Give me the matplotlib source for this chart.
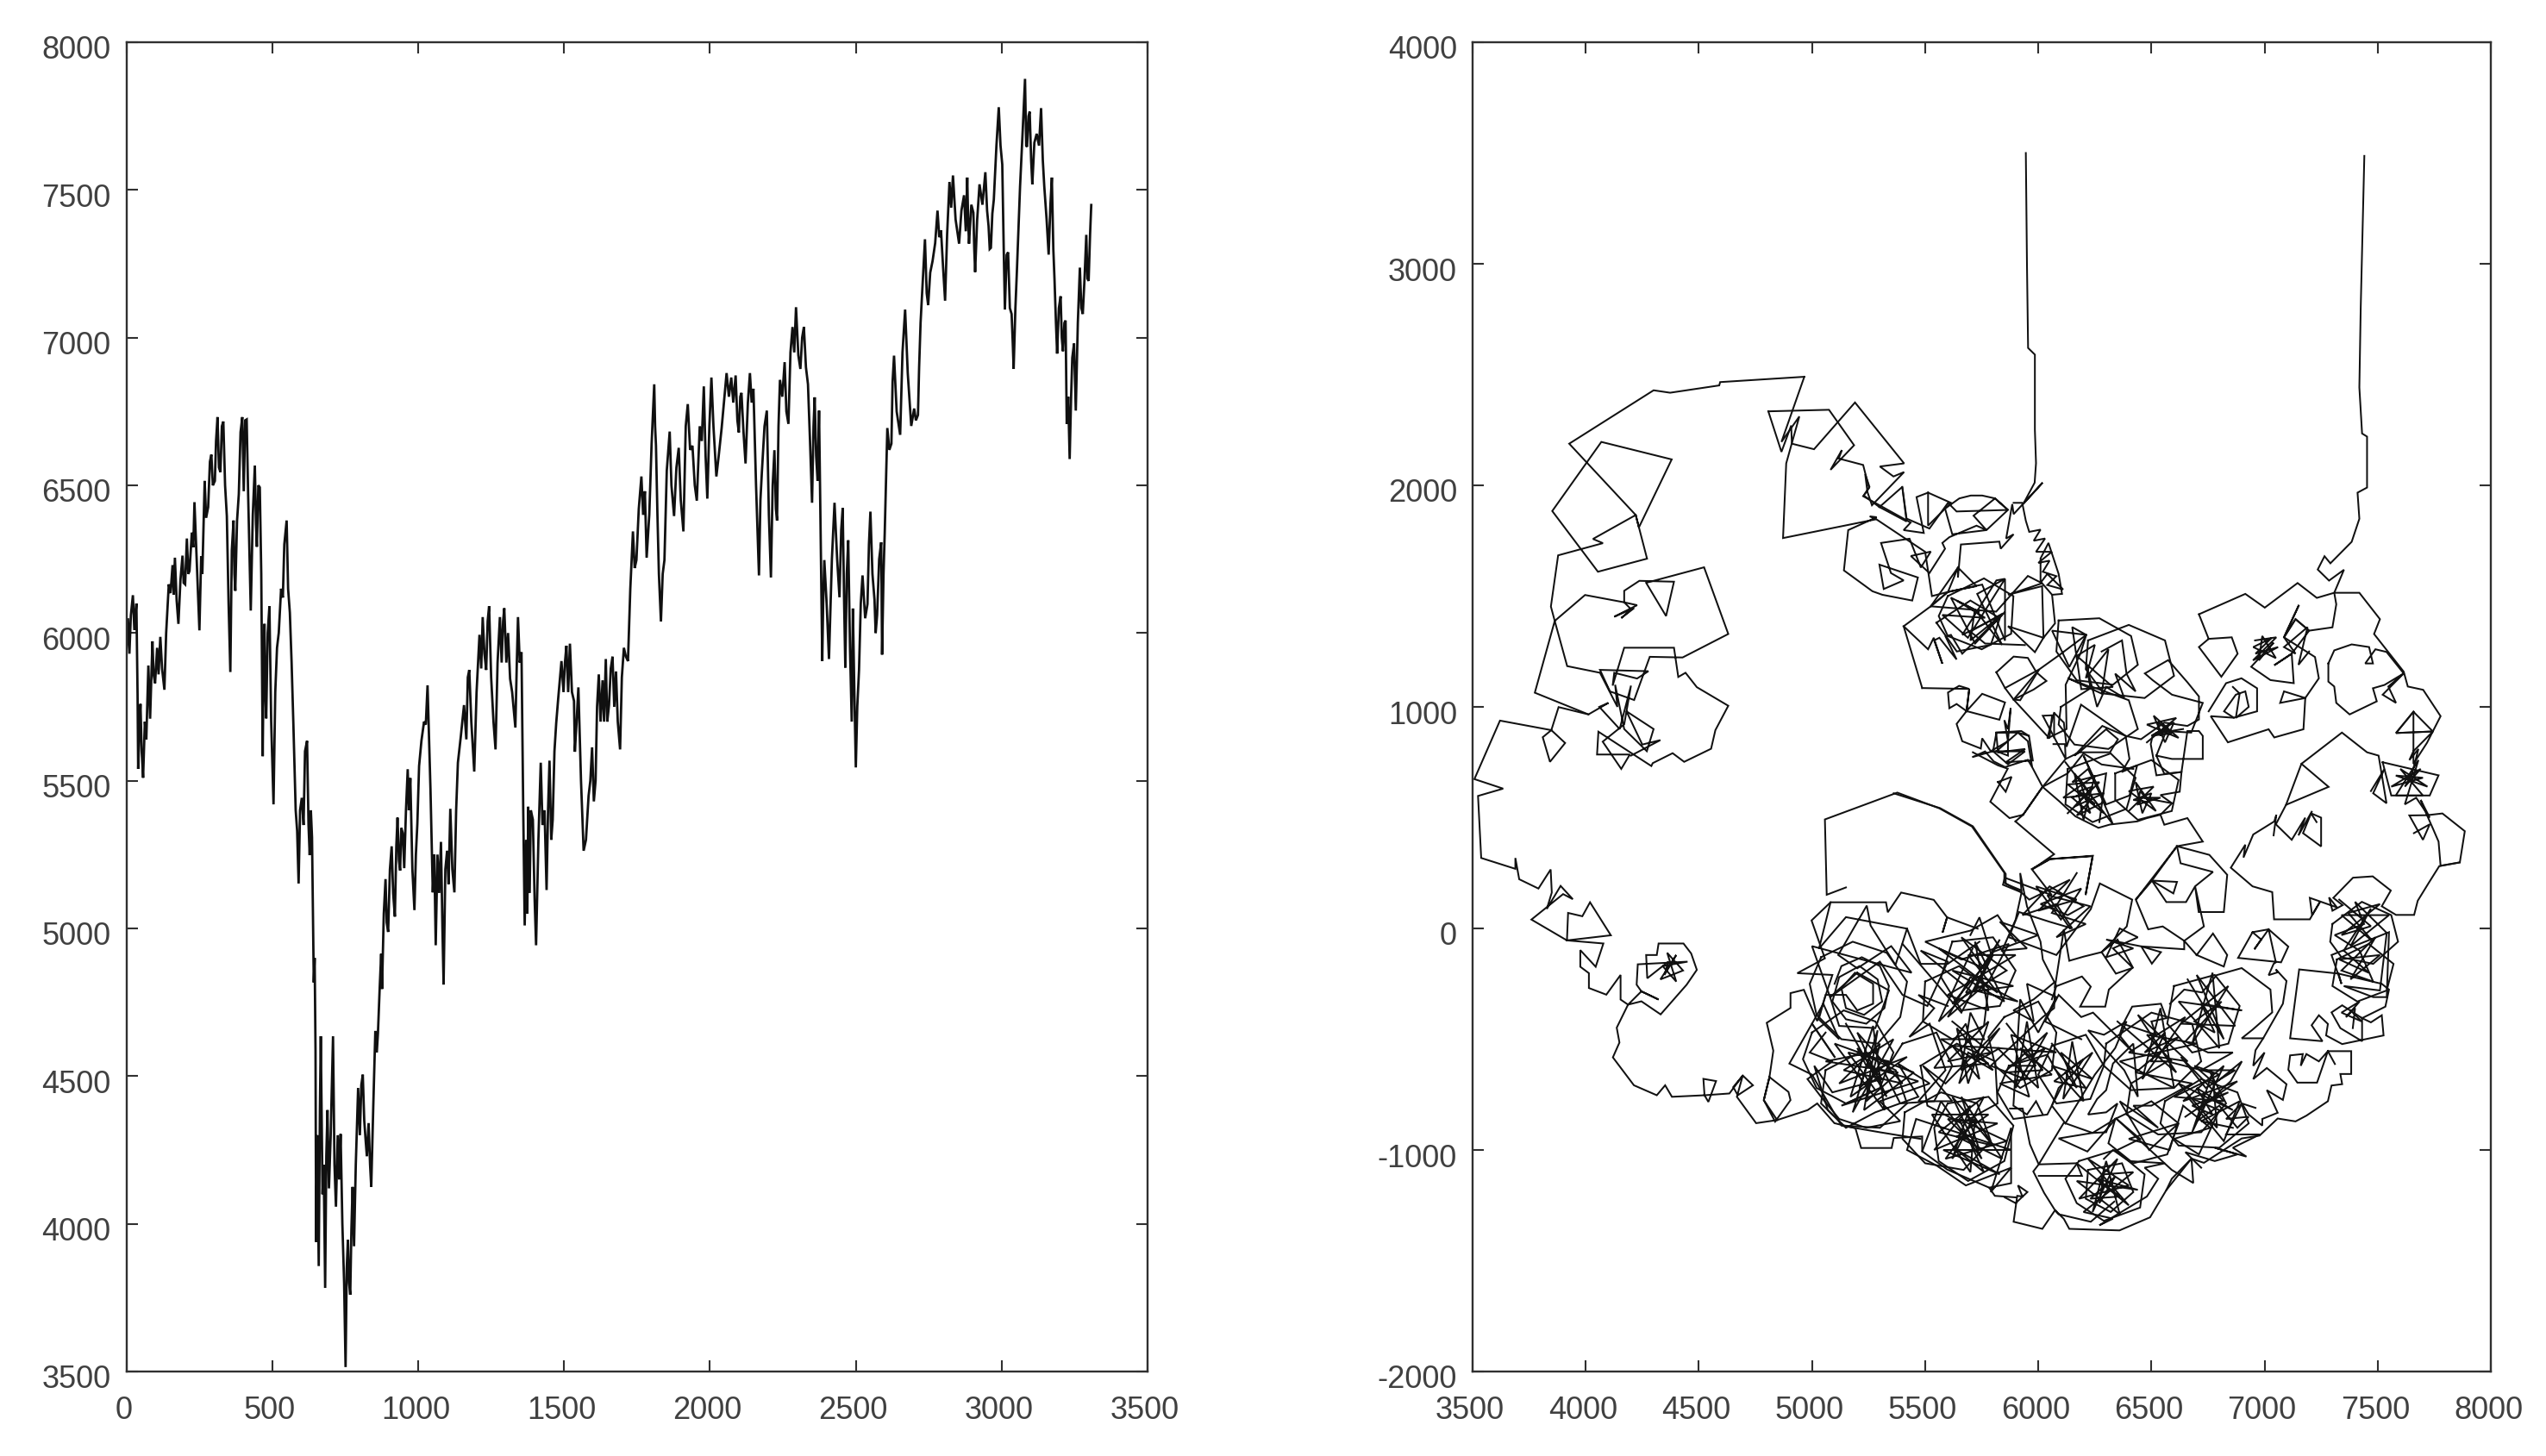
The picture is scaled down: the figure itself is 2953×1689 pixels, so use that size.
import matplotlib
matplotlib.use("Agg")
import matplotlib.pyplot as plt
from matplotlib.transforms import ScaledTranslation
import numpy as np

plt.rcParams["font.family"] = ["Liberation Sans", "DejaVu Sans"]

left_ticks_x = [0, 500, 1000, 1500, 2000, 2500, 3000, 3500]
left_ticks_y = [3500, 4000, 4500, 5000, 5500, 6000, 6500, 7000, 7500, 8000]
right_ticks_x = [3500, 4000, 4500, 5000, 5500, 6000, 6500, 7000, 7500, 8000]
right_ticks_y = [-2000, -1000, 0, 1000, 2000, 3000, 4000]

series_xy = [
    (0, 5950), (5, 6050), (10, 5930), (15, 6060), (22, 6128), (27, 6010), (34, 6100), (38, 5793), (40, 5540), (45, 5700),
    (48, 5760), (52, 5600), (57, 5510), (63, 5700), (68, 5640), (75, 5890), (78, 5800), (81, 5710), (89, 5972), (93, 5860),
    (98, 5830), (105, 5950), (110, 5860), (116, 5987), (122, 5880), (130, 5808), (136, 6000), (145, 6165), (151, 6135),
    (158, 6230), (162, 6130), (166, 6255), (172, 6110), (178, 6031), (185, 6180), (192, 6262), (196, 6170), (201, 6165),
    (207, 6320), (212, 6200), (216, 6210), (224, 6340), (229, 6290), (233, 6443), (241, 6240), (246, 6120), (250, 6009),
    (256, 6260), (260, 6200), (268, 6515), (273, 6390), (280, 6426), (286, 6580), (291, 6604), (296, 6500), (303, 6515),
    (307, 6650), (312, 6731), (317, 6560), (322, 6545), (327, 6700), (332, 6716), (338, 6500), (344, 6396), (350, 6100),
    (356, 5868), (361, 6280), (367, 6381), (370, 6200), (373, 6143), (379, 6380), (385, 6470), (391, 6680), (397, 6731),
    (402, 6480), (407, 6720), (412, 6723), (417, 6470), (421, 6300), (426, 6076), (433, 6400), (440, 6567), (444, 6370),
    (447, 6292), (452, 6500), (457, 6493), (462, 6200), (467, 5583), (470, 5900), (473, 6031), (476, 5800), (479, 5711),
    (484, 6000), (490, 6091), (496, 5700), (504, 5420), (510, 5800), (516, 5950), (522, 6001), (530, 6150), (536, 6120),
    (541, 6300), (549, 6381), (554, 6150), (560, 6069), (566, 5900), (572, 5695), (580, 5400), (585, 5330), (590, 5152),
    (595, 5400), (601, 5442), (607, 5350), (612, 5600), (619, 5635), (624, 5350), (628, 5248), (632, 5400), (636, 5308),
    (642, 4817), (645, 4900), (648, 4586), (650, 3939), (654, 4300), (659, 3857), (663, 4385), (666, 4635), (672, 4100),
    (676, 4200), (681, 3783), (685, 4230), (689, 4385), (694, 4120), (700, 4300), (708, 4635), (713, 4200), (718, 4058),
    (724, 4300), (729, 4150), (734, 4304), (740, 4000), (746, 3800), (751, 3515), (755, 3850), (759, 3946), (763, 3800),
    (767, 3760), (771, 3980), (775, 4125), (778, 4000), (780, 3924), (786, 4200), (794, 4460), (800, 4300), (805, 4470),
    (810, 4505), (815, 4350), (820, 4280), (824, 4229), (830, 4341), (835, 4200), (839, 4125), (846, 4400), (853, 4653),
    (858, 4580), (862, 4646), (868, 4800), (873, 4914), (876, 4795), (882, 5050), (888, 5167), (892, 5020), (897, 4988),
    (903, 5200), (909, 5278), (914, 5120), (920, 5040), (925, 5280), (929, 5375), (934, 5230), (938, 5196), (942, 5340),
    (947, 5323), (952, 5204), (958, 5400), (964, 5539), (968, 5400), (973, 5509), (980, 5200), (987, 5062), (992, 5250),
    (997, 5353), (1003, 5550), (1011, 5635), (1020, 5700), (1026, 5690), (1032, 5823), (1037, 5650), (1042, 5472), (1046, 5300),
    (1050, 5122), (1055, 5250), (1060, 4943), (1066, 5250), (1072, 5120), (1078, 5293), (1083, 5000), (1087, 4810), (1093, 5200),
    (1099, 5263), (1104, 5150), (1110, 5405), (1117, 5200), (1124, 5122), (1130, 5400), (1136, 5561), (1146, 5650), (1157, 5756),
    (1165, 5640), (1170, 5850), (1175, 5875), (1182, 5700), (1192, 5531), (1200, 5800), (1210, 5994), (1216, 5880), (1221, 6054),
    (1227, 5930), (1233, 5875), (1238, 6040), (1243, 6091), (1250, 5850), (1258, 5700), (1265, 5606), (1272, 5900), (1280, 6054),
    (1286, 5900), (1291, 6040), (1295, 6084), (1302, 5900), (1308, 6000), (1315, 5845), (1322, 5800), (1333, 5680), (1338, 5900),
    (1342, 6054), (1348, 5900), (1354, 5935), (1360, 5400), (1365, 5010), (1370, 5300), (1374, 5050), (1377, 5412), (1382, 5120),
    (1386, 5400), (1393, 5368), (1399, 5100), (1404, 4943), (1412, 5300), (1420, 5561), (1426, 5350), (1433, 5400), (1440, 5130),
    (1445, 5400), (1450, 5568), (1456, 5300), (1461, 5368), (1467, 5600), (1473, 5695), (1480, 5780), (1491, 5905), (1498, 5800),
    (1503, 5900), (1508, 5957), (1514, 5800), (1520, 5964), (1527, 5800), (1534, 5770), (1537, 5598), (1543, 5700), (1549, 5816),
    (1558, 5500), (1567, 5263), (1575, 5300), (1584, 5449), (1590, 5500), (1596, 5613), (1602, 5430), (1608, 5500), (1613, 5750),
    (1619, 5860), (1625, 5700), (1632, 5840), (1637, 5700), (1643, 5912), (1648, 5700), (1654, 5756), (1660, 5880), (1666, 5920),
    (1672, 5750), (1678, 5870), (1684, 5700), (1692, 5606), (1698, 5850), (1705, 5950), (1712, 5920), (1719, 5905), (1727, 6150),
    (1736, 6344), (1742, 6220), (1748, 6247), (1756, 6420), (1765, 6530), (1771, 6400), (1777, 6480), (1783, 6255), (1792, 6400),
    (1800, 6640), (1809, 6842), (1812, 6700), (1815, 6634), (1820, 6400), (1825, 6200), (1832, 6039), (1838, 6200), (1844, 6247),
    (1852, 6550), (1862, 6682), (1868, 6500), (1877, 6396), (1885, 6560), (1893, 6627), (1900, 6450), (1909, 6344), (1917, 6700),
    (1924, 6775), (1932, 6620), (1940, 6634), (1948, 6500), (1955, 6448), (1965, 6700), (1972, 6650), (1979, 6835), (1985, 6600),
    (1991, 6455), (1998, 6700), (2005, 6865), (2012, 6700), (2022, 6530), (2030, 6600), (2040, 6693), (2048, 6780), (2057, 6880),
    (2065, 6800), (2073, 6865), (2080, 6780), (2088, 6872), (2094, 6720), (2099, 6679), (2104, 6800), (2108, 6813), (2115, 6680),
    (2122, 6574), (2130, 6780), (2137, 6880), (2143, 6780), (2149, 6827), (2158, 6500), (2168, 6195), (2173, 6450), (2178, 6545),
    (2187, 6700), (2195, 6753), (2202, 6400), (2209, 6188), (2215, 6500), (2221, 6619), (2226, 6420), (2230, 6381), (2235, 6700),
    (2240, 6857), (2248, 6800), (2256, 6917), (2262, 6750), (2269, 6708), (2276, 6950), (2283, 7036), (2289, 6950), (2295, 7103),
    (2303, 6940), (2310, 6894), (2316, 7000), (2322, 7036), (2329, 6900), (2336, 6842), (2343, 6650), (2350, 6441), (2355, 6700),
    (2359, 6798), (2364, 6600), (2369, 6515), (2372, 6650), (2374, 6753), (2380, 6300), (2385, 5905), (2388, 6100), (2392, 6247),
    (2400, 6100), (2408, 5912), (2418, 6250), (2427, 6441), (2436, 6250), (2444, 6121), (2450, 6350), (2455, 6423), (2460, 6100),
    (2464, 5883), (2469, 6200), (2474, 6314), (2480, 5950), (2486, 5700), (2490, 6083), (2495, 5800), (2500, 5545), (2505, 5750),
    (2511, 5875), (2517, 6100), (2523, 6195), (2532, 6050), (2540, 6098), (2545, 6300), (2550, 6411), (2557, 6200), (2564, 6113),
    (2568, 6000), (2573, 6061), (2580, 6250), (2587, 6307), (2590, 5927), (2595, 6200), (2599, 6336), (2605, 6574), (2608, 6694),
    (2615, 6620), (2622, 6641), (2626, 6850), (2631, 6939), (2640, 6750), (2652, 6671), (2660, 6950), (2669, 7095), (2678, 6880),
    (2690, 6701), (2700, 6760), (2706, 6720), (2713, 6738), (2717, 6900), (2722, 7051), (2730, 7200), (2737, 7333), (2743, 7150),
    (2748, 7110), (2755, 7220), (2763, 7259), (2772, 7320), (2780, 7430), (2786, 7340), (2792, 7363), (2799, 7240), (2806, 7125),
    (2813, 7350), (2821, 7527), (2827, 7440), (2833, 7549), (2842, 7400), (2854, 7318), (2862, 7430), (2871, 7482), (2877, 7360),
    (2882, 7542), (2885, 7400), (2888, 7318), (2896, 7450), (2903, 7423), (2906, 7300), (2909, 7222), (2916, 7400), (2924, 7519),
    (2934, 7450), (2944, 7560), (2950, 7430), (2955, 7378), (2959, 7300), (2963, 7304), (2968, 7420), (2973, 7467), (2982, 7650),
    (2990, 7780), (2996, 7650), (3002, 7586), (3007, 7300), (3011, 7095), (3017, 7280), (3022, 7289), (3028, 7100), (3034, 7080),
    (3038, 6980), (3041, 6894), (3047, 7100), (3052, 7222), (3058, 7380), (3063, 7512), (3072, 7700), (3080, 7876), (3084, 7650),
    (3087, 7646), (3092, 7750), (3096, 7765), (3101, 7600), (3105, 7519), (3112, 7660), (3120, 7690), (3128, 7650), (3135, 7777),
    (3141, 7600), (3146, 7512), (3154, 7400), (3161, 7281), (3167, 7450), (3172, 7542), (3177, 7300), (3181, 7199), (3186, 7050),
    (3190, 6946), (3196, 7100), (3202, 7140), (3206, 7000), (3210, 6954), (3215, 7050), (3219, 7058), (3223, 6708), (3228, 6800),
    (3233, 6589), (3238, 6800), (3242, 6932), (3248, 6980), (3254, 6753), (3261, 7050), (3268, 7237), (3273, 7100), (3278, 7080),
    (3284, 7200), (3290, 7348), (3294, 7200), (3298, 7192), (3303, 7350), (3307, 7449),
]

left_arm = [
    (4966, 2490), (4594, 2466), (4590, 2451), (4373, 2418), (4300, 2429), (3927, 2188), (4221, 1866), (4271, 1669),
    (4054, 1610), (3852, 1884), (4069, 2196), (4380, 2117), (4235, 1810), (4221, 1866), (4032, 1758), (4076, 1739),
    (3878, 1684), (3846, 1453), (3863, 1388), (3997, 1505), (4170, 1472), (4227, 1459), (4126, 1407), (4214, 1446),
    (4157, 1401), (4201, 1440), (4170, 1472), (4170, 1524), (4237, 1569), (4390, 1565), (4355, 1410), (4267, 1560),
    (4523, 1630), (4630, 1329), (4428, 1223), (4283, 1226), (4214, 1031), (4107, 1070), (4063, 1167), (4277, 1161),
    (4227, 1128), (4126, 1154), (4119, 1096), (4170, 1267), (4390, 1267), (4409, 1135), (4441, 1154), (4491, 1089),
    (4630, 1005), (4573, 895), (4554, 811), (4435, 752), (4384, 791), (4296, 746), (4290, 733), (4056, 888), (4050, 785),
    (4195, 785), (4157, 720), (4075, 843), (4170, 921), (4200, 1096), (4150, 900), (4060, 1000), (4100, 1018),
    (4012, 966), (3775, 1064), (3863, 1388), (3918, 1184), (4063, 1154), (4140, 1000), (4130, 1100), (4170, 900),
    (4270, 800), (4300, 900), (4180, 980), (4250, 830), (4330, 850), (4200, 780),
]
left_arm_b = [
    (4012, 966), (3880, 999), (3848, 895), (3810, 863), (3842, 752), (3909, 837), (3848, 895), (3621, 938), (3508, 674),
    (3635, 631), (3524, 598), (3538, 318), (3689, 269), (3689, 318), (3706, 222), (3791, 180), (3845, 266), (3850, 162),
    (3828, 88), (3889, 192), (3943, 132), (3900, 155), (3760, 40), (3917, -54), (4111, -31), (4019, 118), (3985, 55),
    (3922, 70), (3917, -54), (4078, -68), (4044, -173), (3976, -98), (3976, -173), (4014, -202), (4014, -269),
    (4091, -299), (4154, -210), (4154, -321), (4187, -344), (4246, -329), (4331, -388), (4446, -254), (4491, -187),
    (4466, -113), (4432, -68), (4322, -68), (4314, -120), (4267, -120), (4272, -225), (4365, -150), (4348, -210),
    (4400, -120), (4330, -230), (4430, -190), (4360, -110), (4400, -240), (4340, -170), (4450, -150), (4230, -162),
    (4225, -254), (4246, -284), (4322, -321), (4246, -284), (4187, -344), (4137, -448), (4149, -515), (4120, -582),
    (4213, -708), (4314, -753), (4351, -708), (4381, -760), (4525, -753), (4520, -679), (4576, -689), (4542, -783),
    (4525, -753), (4635, -745), (4694, -664), (4739, -708), (4672, -753), (4652, -716), (4694, -664), (4668, -760),
    (4753, -879), (4846, -865), (4981, -820), (5023, -790), (5099, -879), (5192, -902), (5217, -991), (5352, -991),
    (5361, -946), (5487, -939), (5487, -1006), (5597, -1088), (5783, -1170), (5808, -1207), (5901, -1214),
]
lobe_c = [
    (4846, -865), (4787, -775), (4812, -671), (4896, -738), (4905, -775), (4837, -872), (4787, -775), (4812, -671),
    (4829, -552), (4800, -426), (4905, -359), (4905, -292), (4964, -277), (5023, -418), (5090, -210), (4935, -202),
    (5057, -135), (4998, 36), (5082, 118), (5327, 118), (5335, 73), (5394, 162), (5538, 129), (5597, 50), (5577, -19),
    (5597, 50), (5732, -1),
]
dome = [
    (5150, 185), (5065, 152), (5057, 492), (5377, 613), (5563, 542), (5707, 460), (5850, 251), (5850, 207), (5926, 162),
    (5900, 40), (5840, -100), (5950, -90), (5830, 30), (6000, -30), (5790, -110), (5740, 50), (5700, -30),
]
squares_d = [
    (5082, 118), (5031, -91), (5150, 51), (5420, -1), (5369, -165), (5259, 13), (5242, 103), (5116, -120), (5200, -180),
    (5350, -80), (5440, -200), (5000, -80), (5080, -310), (5300, -150), (5400, -300), (5510, -350), (5600, -150),
    (5480, -100), (5700, -280), (5560, -420), (5710, -90),
]
knot_ring = [
    (5100, -250), (5130, -170), (5220, -130), (5300, -170), (5340, -260), (5320, -360), (5240, -430), (5150, -410),
    (5090, -330), (5120, -220), (5210, -170), (5290, -230), (5310, -330), (5230, -390), (5150, -360), (5130, -270),
    (5190, -200), (5270, -250), (5270, -340), (5200, -370), (5150, -300), (5060, -300), (5030, -410), (5120, -500),
    (5050, -340), (5000, -430), (5100, -580),
]
knot_a = [
    (5150, -430), (5330, -760), (5200, -470), (5400, -700), (5140, -640), (5360, -500), (5180, -830), (5290, -460),
    (5230, -820), (5450, -650), (5100, -520), (5320, -820), (5270, -440), (5170, -760), (5420, -580), (5120, -700),
    (5300, -520), (5240, -780), (5380, -650), (5060, -600), (5260, -560), (5210, -720), (5340, -600), (5160, -560),
    (5280, -730), (5130, -800), (5470, -690), (5240, -620), (5200, -540), (5310, -680), (5090, -740), (5010, -620),
    (5070, -820), (5150, -900), (5280, -830), (5470, -760), (5380, -610), (5520, -700), (5300, -780), (5390, -870),
    (5240, -900), (5120, -860), (5040, -760), (4980, -680), (5090, -600), (4990, -560), (5060, -470),
]
knot_b = [
    (5487, -1006), (5570, -780), (5750, -1040), (5620, -760), (5800, -980), (5560, -920), (5760, -760), (5620, -1040),
    (5700, -800), (5540, -1000), (5820, -880), (5600, -860), (5740, -1000), (5660, -760), (5840, -1040), (5640, -940),
    (5780, -840), (5530, -840), (5700, -1100), (5720, -860), (5590, -1040), (5860, -960), (5650, -860), (5760, -1100),
    (5640, -1000), (5830, -1110), (5580, -1000), (5880, -1000), (5700, -940), (5460, -860), (5420, -1000), (5550, -1070),
    (5680, -1160), (5880, -1080), (5790, -1190), (5880, -900), (5880, -1150), (5784, -1170),
]
knot_c = [
    (5400, -70), (5660, -380), (5830, -50), (5680, -290), (5890, -260), (5620, -190), (5850, -330), (5720, -60),
    (5780, -370), (5600, -300), (5900, -120), (5690, -120), (5820, -290), (5560, -90), (5760, -180), (5660, -40),
    (5860, -190), (5620, -340), (5800, -120), (5720, -280), (5910, -330), (5700, -220), (5600, -400), (5780, -240),
    (5870, -70), (5660, -140), (5500, -60), (5700, -10), (5820, 60), (5900, -60),
]
knot_d = [
    (5620, -420), (5790, -560), (5600, -600), (5780, -420), (5690, -700), (5640, -450), (5800, -640), (5570, -500),
    (5760, -500), (5700, -380), (5660, -640), (5830, -540), (5620, -530), (5740, -680), (5680, -430), (5540, -630),
    (5780, -610), (5690, -560), (5650, -700), (5830, -450), (5590, -700), (5490, -620), (5620, -780), (5470, -780),
    (5590, -640), (5520, -430), (5430, -490), (5540, -360), (5470, -300), (5600, -350),
]
knot_e = [
    (5860, -430), (6020, -640), (5850, -650), (6040, -470), (5900, -720), (5950, -420), (6000, -720), (5820, -540),
    (6080, -560), (5880, -480), (5960, -760), (5830, -700), (6060, -660), (5920, -540), (5990, -620), (5880, -620),
    (6030, -540), (5940, -680), (5790, -620), (6020, -400), (6070, -360), (6075, -240), (5980, -320), (5890, -370),
    (5980, -420), (5950, -250), (6080, -310), (6000, -470), (5920, -320), (5910, -480), (5890, -800), (5950, -840),
    (5990, -780), (6020, -840),
]
knot_f = [
    (6060, -520), (6210, -720), (6070, -690), (6240, -560), (6110, -770), (6150, -510), (6200, -780), (6060, -620),
    (6240, -680), (6100, -560), (6170, -720), (6120, -650), (6200, -590), (6160, -650), (6090, -720), (6060, -800),
    (6120, -880), (6250, -660), (6340, -540), (6390, -420), (6290, -480), (6220, -460), (6380, -640), (6440, -760),
    (6420, -520), (6330, -610), (6300, -730), (6260, -770), (6220, -840), (6300, -830), (6350, -790), (6300, -920),
    (6240, -923), (6090, -948), (6217, -1007), (6344, -858), (6450, -950), (6350, -1000),
]
knot_g = [
    (6350, -420), (6610, -650), (6440, -390), (6660, -600), (6400, -560), (6650, -400), (6460, -680), (6540, -360),
    (6600, -720), (6360, -600), (6700, -520), (6480, -480), (6590, -600), (6500, -600), (6560, -470), (6470, -560),
    (6620, -490), (6430, -650), (6680, -700), (6500, -800), (6420, -800), (6530, -900), (6360, -780), (6490, -1000),
    (6620, -880), (6400, -950), (6580, -1000), (6640, -800), (6760, -900), (6600, -950), (6710, -1020), (6800, -820),
    (6660, -760), (6820, -960), (6890, -780), (6720, -870), (6860, -900),
]
knot_h = [
    (6660, -230), (6820, -500), (6700, -210), (6870, -440), (6630, -430), (6840, -260), (6680, -520), (6770, -200),
    (6800, -540), (6620, -330), (6900, -370), (6720, -340), (6780, -470), (6690, -420), (6810, -330), (6650, -510),
    (6750, -560), (6860, -560), (6720, -640), (6870, -640), (6740, -720), (6630, -580), (6820, -780), (6600, -760),
    (6800, -660), (6690, -620), (6780, -700), (6900, -600), (6850, -690), (6720, -810),
]
knot_i = [
    (6650, -850), (6880, -690), (6640, -780), (6820, -620), (6680, -920), (6770, -650), (6790, -900), (6620, -700),
    (6860, -820), (6700, -720), (6770, -840), (6680, -800), (6840, -740), (6740, -790), (6700, -870), (6800, -800),
    (6880, -900), (6930, -850), (6830, -860), (6900, -790), (6830, -930), (6980, -930), (6860, -990), (6920, -1030),
    (6780, -990), (6880, -1020), (6780, -1050), (6650, -1010), (6720, -1080),
]
knot_k = [
    (6170, -1060), (6400, -1250), (6220, -1040), (6400, -1160), (6180, -1220), (6350, -1040), (6240, -1280), (6300, -1050),
    (6360, -1290), (6170, -1140), (6440, -1180), (6260, -1130), (6360, -1210), (6230, -1220), (6340, -1120), (6270, -1240),
    (6290, -1110), (6420, -1100), (6310, -1190), (6200, -1280), (6330, -1310), (6270, -1340), (6480, -1210), (6530, -1130),
    (6470, -1080), (6560, -1060), (6400, -1050), (6330, -1000), (6290, -1040),
]
bottom_rim = [
    (5875, -813), (5931, -813), (5963, -974), (6002, -1065), (5978, -1097), (6026, -1194), (6074, -1272), (6018, -1356),
    (5891, -1324), (5907, -1207), (5930, -1210), (5910, -1160), (5952, -1190), (5900, -1240), (5852, -1214),
]
bottom_rim_b = [
    (6002, -1117), (6193, -1117), (6170, -1060), (6002, -1065), (6113, -877), (6240, -923), (6344, -858), (6494, -1000),
    (6590, -1090), (6685, -1149), (6677, -1039), (6566, -1181), (6494, -1304), (6359, -1363), (6137, -1356), (6113, -1311),
    (6074, -1272), (6090, -1290), (6232, -1324), (6336, -1233),
]
rim_e = [
    (6566, -1181), (6590, -1130), (6677, -1039), (6732, -1058), (6899, -948), (6978, -935), (7058, -858), (7137, -871),
    (7185, -845), (7280, -780), (7296, -709), (7343, -703), (7335, -657), (7383, -657), (7383, -554), (7280, -554),
    (7232, -696), (7145, -696), (7105, -638), (7113, -573), (7169, -567), (7160, -620), (7185, -567), (7240, -600),
    (7280, -554), (7311, -612),
]
rim_f = [
    (6994, -496), (6960, -550), (6950, -620), (7000, -560), (6950, -680), (7010, -630), (7097, -703), (7081, -774),
    (7010, -730), (7030, -770), (7058, -832), (6990, -860), (6990, -890), (6930, -840), (6900, -790), (6960, -810),
]
rim_g = [
    (6582, -340), (6645, -276), (6724, -289), (6788, -211), (6899, -179), (7026, -276), (7034, -379), (6947, -457),
    (6899, -496), (6994, -496), (7081, -340), (7097, -237), (7050, -185), (7058, -198), (7018, -211), (7040, -160),
    (7050, -153), (7018, -4), (6947, -17), (6883, -133), (7073, -153), (7105, -82), (7018, -4), (6955, -94), (6985, -50),
    (6947, -17),
]
center_low = [
    (5899, 483), (6070, 335), (5976, 268), (6053, 313), (6241, 328), (6209, 151), (6240, 326), (6050, 313), (5971, 268),
    (6060, 150), (5852, 229), (5844, 197), (5923, 164), (5960, 130), (6140, 220), (6000, 80), (6170, 130), (5990, 190),
    (6100, 40), (6190, 180), (6010, 110), (6130, 60), (6200, 100), (6050, 190), (5930, 60), (6080, 110), (6150, 0),
    (6050, 30), (5915, 74), (5870, -40), (6080, -120), (6232, 87), (6272, 203), (6415, 130), (6391, 9), (6280, -107),
    (6343, -204), (6415, -179), (6312, -276), (6296, -353), (6185, -353), (6232, -263), (6193, -217), (6074, -263),
    (6113, -4), (6137, -146), (6201, -127), (6280, -107), (6350, -50), (6420, -180), (6330, -90), (6440, -40), (6360, 0),
    (6300, -130), (6420, -90), (6300, -50), (6455, -81), (6502, -159), (6542, -107), (6455, -81), (6645, -94), (6645, -56),
    (6550, 9), (6486, -4), (6431, 130), (6502, 216), (6613, 210), (6597, 158), (6502, 216), (6566, 119), (6653, 119),
    (6693, 190), (6772, 255), (6629, 294), (6613, 371), (6756, 332), (6835, 242), (6820, 74), (6709, 74), (6693, 190),
    (6732, 9), (6645, -56), (6700, -120), (6772, -23), (6835, -120), (6820, -172), (6700, -120),
]
center_low_b = [
    (6375, -431), (6415, -353), (6542, -340), (6566, -405), (6500, -420), (6520, -480), (6375, -431), (6359, -483),
    (6420, -560), (6242, -380), (6190, -400), (6090, -300), (6030, -420), (6190, -500),
]
arc_right = [
    (6613, 371), (6502, 216), (6431, 130), (6613, 371), (6727, 392), (6659, 498), (6557, 468), (6540, 513), (6480, 498),
    (6437, 483), (6317, 469), (6266, 454), (6164, 506), (6095, 572), (6019, 639), (6121, 765), (6181, 795), (6300, 899),
    (6352, 854), (6317, 795), (6181, 795), (6160, 780), (6283, 914), (6386, 869), (6403, 765), (6369, 706), (6437, 736),
    (6403, 600), (6300, 560), (6200, 780), (6330, 470), (6120, 750),
]
knot_m = [
    (6130, 520), (6270, 660), (6130, 650), (6290, 520), (6160, 700), (6200, 490), (6250, 690), (6110, 590), (6290, 610),
    (6160, 550), (6240, 640), (6180, 620), (6250, 560), (6200, 610), (6150, 590), (6230, 520), (6180, 680), (6240, 590),
    (6170, 510), (6290, 570), (6220, 720), (6150, 660), (6300, 700), (6270, 480),
]
knot_n = [
    (6400, 530), (6510, 640), (6400, 620), (6520, 530), (6430, 660), (6460, 520), (6500, 610), (6420, 580), (6490, 570),
    (6450, 620), (6440, 560), (6540, 590), (6460, 590), (6591, 565),
]
knot_p = [
    (6480, 840), (6610, 950), (6480, 920), (6620, 860), (6510, 960), (6560, 840), (6600, 930), (6500, 870), (6590, 880),
    (6530, 930), (6540, 870), (6570, 910), (6520, 880), (6640, 900),
]
mid_top = [
    (6070, 862), (6070, 973), (6113, 929), (6125, 820), (6189, 1010), (6386, 869), (6454, 854), (6557, 929), (6659, 914),
    (6710, 943), (6710, 1047), (6660, 1110), (6574, 1211), (6471, 1151), (6505, 1121), (6591, 1055), (6727, 1018),
    (6676, 884), (6557, 891), (6505, 869), (6497, 832), (6522, 691), (6633, 706), (6625, 617), (6540, 602), (6591, 565),
    (6540, 513),
]
mid_top_b = [
    (6522, 780), (6591, 765), (6727, 765), (6727, 869), (6710, 891), (6659, 891), (6633, 706), (6557, 698), (6522, 780),
    (6574, 914),
]
lower_trace = [
    (6067, 832), (6118, 832), (6121, 765), (6020, 960), (6061, 962), (6049, 858), (5891, 1033), (6004, 1169), (6093, 1234),
    (6212, 1325), (6061, 1344), (6137, 1180), (6212, 1325), (6150, 1360), (6190, 1080), (6330, 1090), (6170, 1230),
    (6250, 1280), (6210, 1130), (6310, 1260), (6280, 1060), (6130, 1130), (6230, 1090), (6210, 1200), (6260, 1000),
    (6300, 1090), (6380, 1040), (6340, 1150), (6430, 1070), (6390, 1150), (6370, 1300), (6280, 1250),
]
upper_shell = [
    (4966, 2490), (4865, 2196), (4944, 2311), (4886, 2099), (4872, 1762), (5284, 1847), (5255, 1860), (5286, 1856),
    (5160, 1798), (5141, 1616), (5267, 1522), (5311, 1506), (5443, 1480), (5468, 1584), (5298, 1642), (5317, 1532),
    (5405, 1571), (5349, 1604), (5305, 1740), (5431, 1759), (5481, 1629), (5525, 1701), (5437, 1681), (5519, 1604),
    (5588, 1714), (5576, 1740), (5607, 1766), (5727, 1818), (5771, 1798), (5714, 1863), (5809, 1941), (5866, 1889),
    (5771, 1798), (5620, 1779), (5588, 1895), (5651, 1941), (5702, 1954), (5752, 1954), (5809, 1941), (5866, 1889),
    (5639, 1882), (5601, 1921), (5519, 1805), (5418, 1850), (5399, 1993),
]
upper_shell_b = [
    (4807, 2334), (5075, 2341), (5186, 2181), (5082, 2070), (5132, 2159), (5118, 2121), (5226, 2092), (5252, 1988),
    (5226, 1951), (5436, 1832), (5405, 1798), (5494, 1785), (5462, 1947), (5513, 1967), (5614, 1921), (5513, 1818),
    (5513, 1967),
]
upper_shell_c = [
    (4807, 2334), (4865, 2151), (4908, 2270), (4911, 2188), (5009, 2163), (5190, 2374), (5407, 2099), (5300, 2085),
    (5360, 2040), (5407, 2060), (5265, 1910), (5245, 1970), (5235, 2051), (5254, 1993), (5229, 1954), (5298, 1902),
    (5399, 1993), (5418, 1837), (5298, 1902),
]
top_trunk = [
    (5945, 3500), (5950, 3000), (5955, 2620), (5985, 2590), (5985, 2250), (5990, 2100), (5984, 2012), (5933, 1915),
    (6019, 2012), (5891, 1870), (5885, 1915), (5858, 1760), (5891, 1779), (5834, 1714), (5828, 1746), (5658, 1733),
    (5645, 1584), (5645, 1629), (5525, 1454), (5405, 1364), (5513, 1260), (5538, 1312), (5576, 1195), (5540, 1300),
    (5563, 1312), (5639, 1214), (5590, 1318), (5614, 1325), (5664, 1240), (5853, 1428), (5700, 1300), (5720, 1440),
    (5840, 1280), (5730, 1510), (5853, 1578), (5815, 1571), (5664, 1325), (5840, 1415), (5721, 1286), (5614, 1493),
    (5740, 1428), (5639, 1480), (5765, 1402), (5576, 1415), (5689, 1312), (5853, 1578), (5853, 1299), (5752, 1552),
    (5601, 1519), (5727, 1545), (5645, 1629), (5601, 1519), (5525, 1454), (5814, 1430), (5954, 1591), (6017, 1558),
    (5866, 1506), (6017, 1545), (6023, 1312), (5866, 1364), (5985, 1247), (6023, 1312), (6074, 1377), (6061, 1506),
    (6017, 1558),
]
top_shell_b = [
    (5891, 1921), (5929, 1921), (5945, 1840), (5960, 1790), (6010, 1800), (5980, 1750), (6030, 1760), (5990, 1700),
    (6060, 1700), (6000, 1650), (6050, 1660), (6020, 1610), (6080, 1590), (6040, 1550), (6110, 1530), (6040, 1600),
    (6010, 1560), (6010, 1670), (6045, 1740), (6090, 1600), (6105, 1510), (6061, 1506),
]
octa_a = [
    (5815, 1156), (5891, 1227), (5954, 1221), (5992, 1156), (6036, 1117), (5979, 1078), (5891, 1033), (5853, 1085),
    (5815, 1156),
]
octa_b = [
    (5853, 1085), (6004, 1169), (5920, 1030), (5891, 1033),
]
stair = [
    (5487, 1085), (5695, 1081), (5650, 1095), (5601, 1065), (5607, 994), (5639, 1013), (5683, 981), (5695, 1081),
    (5683, 981), (5828, 942), (5853, 1020), (5752, 1059), (5683, 981), (5639, 923), (5664, 845), (5746, 812), (5752, 858),
    (5790, 800), (5866, 845), (5878, 994), (5866, 900), (5850, 940), (5866, 845), (5866, 780), (5815, 800), (5910, 884),
    (5815, 884), (5800, 800), (5941, 799), (5866, 741), (5800, 800), (5708, 773), (5765, 799), (5803, 754), (5853, 728),
    (5954, 761), (5973, 728), (5954, 845), (5910, 884), (5959, 869), (5925, 891), (5814, 884), (5822, 795), (5942, 810),
    (5856, 750), (5976, 758), (5959, 869),
]
stair_b = [
    (5711, 795), (5822, 736), (5865, 721), (5788, 572), (5873, 498), (5933, 513), (6019, 639), (5933, 513), (5899, 483),
]
stair_c = [
    (5822, 661), (5882, 684), (5856, 617), (5822, 661),
]
stair_d = [
    (5487, 1085), (5405, 1364),
]
long_arc = [
    (5361, 610), (5566, 543), (5711, 461), (5856, 246), (5856, 201), (5925, 172),
]
right_trunk = [
    (7441, 3487), (7425, 2800), (7419, 2442), (7431, 2234), (7453, 2220), (7453, 1990), (7411, 1967), (7419, 1849),
    (7385, 1745), (7291, 1648), (7265, 1680), (7235, 1620), (7285, 1570), (7351, 1619), (7308, 1515), (7419, 1515),
    (7510, 1396), (7484, 1329), (7615, 1159), (7633, 1092), (7701, 1077), (7778, 958), (7718, 838), (7658, 743),
    (7658, 978), (7581, 882), (7744, 889), (7658, 800), (7640, 760), (7680, 810), (7650, 690), (7620, 640), (7690, 720),
    (7560, 640), (7700, 680), (7580, 690), (7720, 640), (7600, 720), (7700, 600), (7580, 600), (7680, 760), (7620, 560),
    (7670, 590), (7730, 500), (7690, 580), (7718, 511), (7786, 519), (7885, 439), (7863, 298), (7778, 283), (7769, 392),
    (7744, 451), (7718, 511), (7640, 510), (7700, 400), (7730, 470), (7660, 430),
]
right_end = [
    (7863, 298), (7772, 281), (7724, 203), (7677, 125), (7661, 61), (7581, 61), (7518, 100), (7558, 171), (7478, 235),
    (7391, 229), (7304, 138), (7345, 105), (7300, 80), (7285, 140), (7320, 95), (7200, 138), (7210, 60), (7245, 120),
    (7200, 41), (7042, 41), (7034, 164), (6947, 190), (6851, 274), (6915, 378), (6907, 320), (6950, 424), (7043, 483),
    (7052, 513), (7040, 420),
]
right_knot = [
    (7330, 130), (7470, 10), (7340, -30), (7510, 110), (7370, 70), (7480, -60), (7340, 60), (7550, 60), (7380, -80),
    (7470, 90), (7350, -100), (7460, -200), (7330, -140), (7510, -120), (7380, -230), (7490, -40), (7340, -190), (7480, -240),
    (7420, -100), (7310, -30), (7440, 20), (7400, 120), (7540, -20), (7510, -280), (7350, -260), (7480, -310), (7540, -310),
    (7550, -17), (7296, -120), (7340, -250), (7327, -204), (7153, -185), (7113, -496), (7256, -509), (7208, -437),
    (7240, -392), (7280, -431), (7272, -483), (7343, -522), (7526, -483), (7518, -392), (7470, -424), (7431, -405),
    (7431, -509), (7335, -450), (7296, -379), (7343, -347), (7431, -405), (7534, -353), (7550, -276), (7518, -250),
    (7327, -204),
]
right_knot_b = [
    (7390, -450), (7400, -360), (7360, -400), (7420, -330), (7340, -380), (7430, -420), (7380, -370),
]
right_oval = [
    (7095, 558), (7163, 743), (7342, 884), (7453, 795), (7504, 780), (7539, 565), (7480, 610), (7530, 720), (7470, 620),
]
right_oval_b = [
    (7163, 743), (7283, 639), (7095, 558), (7050, 470), (7120, 400), (7180, 500), (7150, 420), (7210, 530), (7170, 430),
    (7250, 370), (7250, 500), (7205, 520), (7230, 480),
]
right_oval_c = [
    (7522, 750), (7769, 691), (7730, 600), (7560, 600), (7522, 750),
]
upper_right = [
    (6710, 1418), (6915, 1510), (7001, 1448), (7146, 1559), (7231, 1492), (7308, 1515), (7317, 1463), (7300, 1359),
    (7197, 1344), (7137, 1396), (7086, 1314), (7152, 1460), (7086, 1314), (7223, 1225), (7240, 1129), (7180, 1040),
    (7172, 899), (7043, 862), (7018, 899), (6838, 840), (6762, 958), (6864, 951),
]
upper_right_b = [
    (7180, 1040), (7086, 1070), (7069, 1018), (7180, 1040),
]
upper_right_c = [
    (6710, 1418), (6753, 1307), (6855, 1314), (6881, 1240), (6809, 1136), (6710, 1270), (6753, 1307),
]
oval_d = [
    (6753, 980), (6830, 1107), (6898, 1129), (6967, 1084), (6967, 980), (6864, 951), (6821, 980), (6873, 1055),
    (6915, 1070), (6930, 1000), (6873, 950), (6890, 1060), (6860, 1090),
]
knot_q = [
    (6958, 1300), (7052, 1314), (6949, 1210), (7060, 1270), (6960, 1240), (7030, 1310), (6950, 1270), (7050, 1220),
    (6990, 1320), (6975, 1210), (7040, 1290), (6941, 1181), (7026, 1121), (7129, 1107), (7120, 1240), (7043, 1188),
    (7120, 1240), (7197, 1344), (7137, 1396), (7086, 1314), (7137, 1240), (7086, 1270), (7190, 1360), (7150, 1190),
    (7197, 1250),
]
far_right = [
    (7282, 1196), (7308, 1255), (7385, 1282), (7462, 1270), (7479, 1196), (7445, 1196), (7490, 1260), (7539, 1248),
    (7615, 1151), (7547, 1092), (7581, 1018), (7522, 1055), (7615, 1151), (7530, 1099), (7479, 1084), (7496, 1025),
    (7376, 966), (7317, 1018), (7308, 1092), (7282, 1114), (7282, 1196),
]
far_right_b = [
    (7658, 978), (7581, 882), (7744, 889), (7658, 978),
]
extra_low = [
    (6140, 0), (6040, 150), (6230, 100), (6080, -40), (6210, 20), (6060, 70), (6170, 250),
]
links = [
    (5284, 1847), (5500, 1700), (5530, 1500), (5601, 1519), (5525, 1454),
]
links_b = [
    (5941, 1279), (5765, 1286), (5700, 1340), (5840, 1420),
]
links_c = [
    (5973, 728), (6019, 639), (6130, 700), (6200, 790), (6280, 740), (6420, 720),
]
links_d = [
    (6212, 1325), (6186, 1240), (6121, 1100), (6125, 900), (6040, 858), (6070, 973),
]
links_e = [
    (5926, 162), (5920, 250), (5950, 100), (6010, -60), (6020, -140), (6080, -260), (6060, -320),
]
links_f = [
    (5100, -580), (5000, -430), (4900, -610), (5000, -660), (5130, -890), (5300, -920), (5480, -950),
]
links_g = [
    (5420, -1), (5480, -160), (5600, -160), (5740, -60),
]

mesh_1 = [(5040, -130), (5180, -60), (5330, -110), (5420, -240), (5390, -400), (5290, -520), (5130, -500), (5020, -390), (4990, -250), (5040, -130)]
mesh_2 = [(5000, -470), (5140, -370), (5280, -420), (5360, -560), (5300, -720), (5150, -790), (5020, -720), (4960, -590), (5000, -470)]
mesh_3 = [(5060, -640), (5210, -560), (5370, -640), (5420, -790), (5300, -900), (5140, -890), (5040, -790), (5060, -640)]
mesh_4 = [(5200, -200), (5340, -280), (5280, -450), (5120, -440), (5080, -310), (5200, -200)]
mesh_5 = [(5400, -520), (5550, -470), (5620, -620), (5540, -780), (5390, -790), (5320, -650), (5400, -520)]
mesh_6 = [(5500, -240), (5650, -170), (5780, -270), (5760, -440), (5620, -500), (5490, -420), (5500, -240)]
mesh_7 = [(5620, -60), (5800, -40), (5900, -190), (5830, -350), (5660, -370), (5570, -220), (5620, -60)]
mesh_8 = [(5480, -620), (5640, -520), (5810, -600), (5820, -790), (5660, -880), (5510, -800), (5480, -620)]
mesh_9 = [(5410, -830), (5570, -740), (5730, -790), (5790, -960), (5670, -1090), (5500, -1060), (5400, -950), (5410, -830)]
mesh_10 = [(5600, -790), (5780, -760), (5890, -890), (5850, -1050), (5690, -1140), (5560, -1050), (5540, -900), (5600, -790)]
mesh_11 = [(5850, -400), (6000, -330), (6080, -470), (6060, -640), (5920, -720), (5810, -620), (5780, -490), (5850, -400)]
mesh_12 = [(5870, -620), (6040, -570), (6110, -700), (6040, -840), (5890, -860), (5820, -740), (5870, -620)]
mesh_13 = [(6060, -530), (6210, -480), (6290, -620), (6230, -770), (6080, -790), (6000, -660), (6060, -530)]
mesh_14 = [(6300, -520), (6500, -380), (6680, -430), (6720, -600), (6600, -720), (6410, -730), (6290, -620), (6300, -520)]
mesh_15 = [(6410, -700), (6570, -600), (6760, -650), (6830, -790), (6720, -920), (6530, -930), (6390, -840), (6410, -700)]
mesh_16 = [(6600, -260), (6780, -210), (6890, -350), (6840, -520), (6680, -560), (6570, -430), (6600, -260)]
mesh_17 = [(6560, -780), (6720, -680), (6880, -740), (6930, -880), (6800, -990), (6620, -980), (6540, -880), (6560, -780)]
mesh_18 = [(6180, -1050), (6340, -1000), (6470, -1110), (6450, -1260), (6290, -1320), (6170, -1240), (6120, -1130), (6180, -1050)]
mesh_19 = [(6220, -1090), (6370, -1060), (6420, -1190), (6320, -1280), (6210, -1220), (6220, -1090)]
mesh_20 = [(6340, -860), (6500, -780), (6620, -880), (6570, -1020), (6420, -1060), (6310, -970), (6340, -860)]
mesh_21 = [(7300, 20), (7430, 120), (7560, 60), (7590, -60), (7480, -160), (7340, -130), (7290, -60), (7300, 20)]
mesh_22 = [(7320, -140), (7460, -70), (7570, -160), (7540, -280), (7410, -330), (7300, -260), (7320, -140)]
mesh_23 = [(5600, 1500), (5760, 1580), (5890, 1500), (5880, 1330), (5750, 1260), (5600, 1320), (5560, 1410), (5600, 1500)]
mesh_24 = [(5550, 1380), (5700, 1480), (5830, 1400), (5790, 1280), (5640, 1250), (5550, 1380)]
mesh_25 = [(6090, 1390), (6270, 1400), (6410, 1320), (6440, 1190), (6330, 1100), (6170, 1120), (6080, 1250), (6090, 1390)]
mesh_26 = [(6220, 1300), (6400, 1370), (6560, 1300), (6600, 1140), (6470, 1040), (6290, 1060), (6210, 1170), (6220, 1300)]
mesh_27 = [(6100, 1000), (6240, 1090), (6400, 1030), (6440, 900), (6310, 810), (6160, 830), (6090, 920), (6100, 1000)]
mesh_28 = [(6130, 720), (6320, 790), (6430, 680), (6390, 540), (6240, 480), (6120, 560), (6130, 720)]
mesh_29 = [(6340, 700), (6500, 760), (6620, 670), (6590, 530), (6440, 490), (6340, 580), (6340, 700)]

right_chains = [
    left_arm, left_arm_b, lobe_c, dome, squares_d, knot_ring, knot_a, knot_b, knot_c, knot_d, knot_e, knot_f, knot_g,
    knot_h, knot_i, knot_k, bottom_rim, bottom_rim_b, rim_e, rim_f, rim_g, center_low, center_low_b, arc_right, knot_m,
    knot_n, knot_p, mid_top, mid_top_b, lower_trace, upper_shell, upper_shell_b, upper_shell_c, top_trunk, top_shell_b,
    octa_a, octa_b, stair, stair_b, stair_c, stair_d, long_arc, right_trunk, right_end, right_knot, right_knot_b,
    right_oval, right_oval_b, right_oval_c, upper_right, upper_right_b, upper_right_c, oval_d, knot_q, far_right,
    far_right_b, extra_low, links, links_b, links_c, links_d, links_e, links_f, links_g,
    mesh_1, mesh_2, mesh_3, mesh_4, mesh_5, mesh_6, mesh_7, mesh_8, mesh_9, mesh_10, mesh_11, mesh_12, mesh_13, mesh_14,
    mesh_15, mesh_16, mesh_17, mesh_18, mesh_19, mesh_20, mesh_21, mesh_22, mesh_23, mesh_24, mesh_25, mesh_26, mesh_27,
    mesh_28, mesh_29,
]

W, H = 2953, 1689
TEXT = "#404040"
fig = plt.figure(figsize=(W / 100, H / 100), dpi=100, facecolor="white")
ax1 = fig.add_axes([146.7 / W, (H - 1591) / H, 1184.3 / W, 1542 / H])
ax2 = fig.add_axes([1708 / W, (H - 1591) / H, 1181 / W, 1542 / H])

xy = np.array(series_xy)
ax1.plot(xy[:, 0], xy[:, 1], color="#101010", lw=2.0, solid_joinstyle="miter")
for chain in right_chains:
    pts = np.array(chain)
    ax2.plot(pts[:, 0], pts[:, 1], color="#111111", lw=1.45, solid_joinstyle="miter")

ax1.set_xlim(0, 3500)
ax1.set_ylim(3500, 8000)
ax1.set_xticks(left_ticks_x)
ax1.set_yticks(left_ticks_y)
ax2.set_xlim(3500, 8000)
ax2.set_ylim(-2000, 4000)
ax2.set_xticks(right_ticks_x)
ax2.set_yticks(right_ticks_y)
ax2.set_yticklabels([str(v) for v in right_ticks_y])

for ax in [ax1, ax2]:
    ax.tick_params(direction="in", top=True, right=True, length=9.5, width=1.5, color="#303030", labelcolor=TEXT,
                   labelsize=26, pad=13)
    ax.tick_params(axis="x", pad=20)
    for spine in ax.spines.values():
        spine.set_linewidth(1.7)
        spine.set_color("#303030")
    shift_x = ScaledTranslation(-3 / 100, 0, fig.dpi_scale_trans)
    shift_y = ScaledTranslation(0, -6 / 100, fig.dpi_scale_trans)
    for lab in ax.get_xticklabels():
        lab.set_transform(lab.get_transform() + shift_x)
    for lab in ax.get_yticklabels():
        lab.set_transform(lab.get_transform() + shift_y)

fig.savefig("out.png", dpi=100, facecolor="white")
